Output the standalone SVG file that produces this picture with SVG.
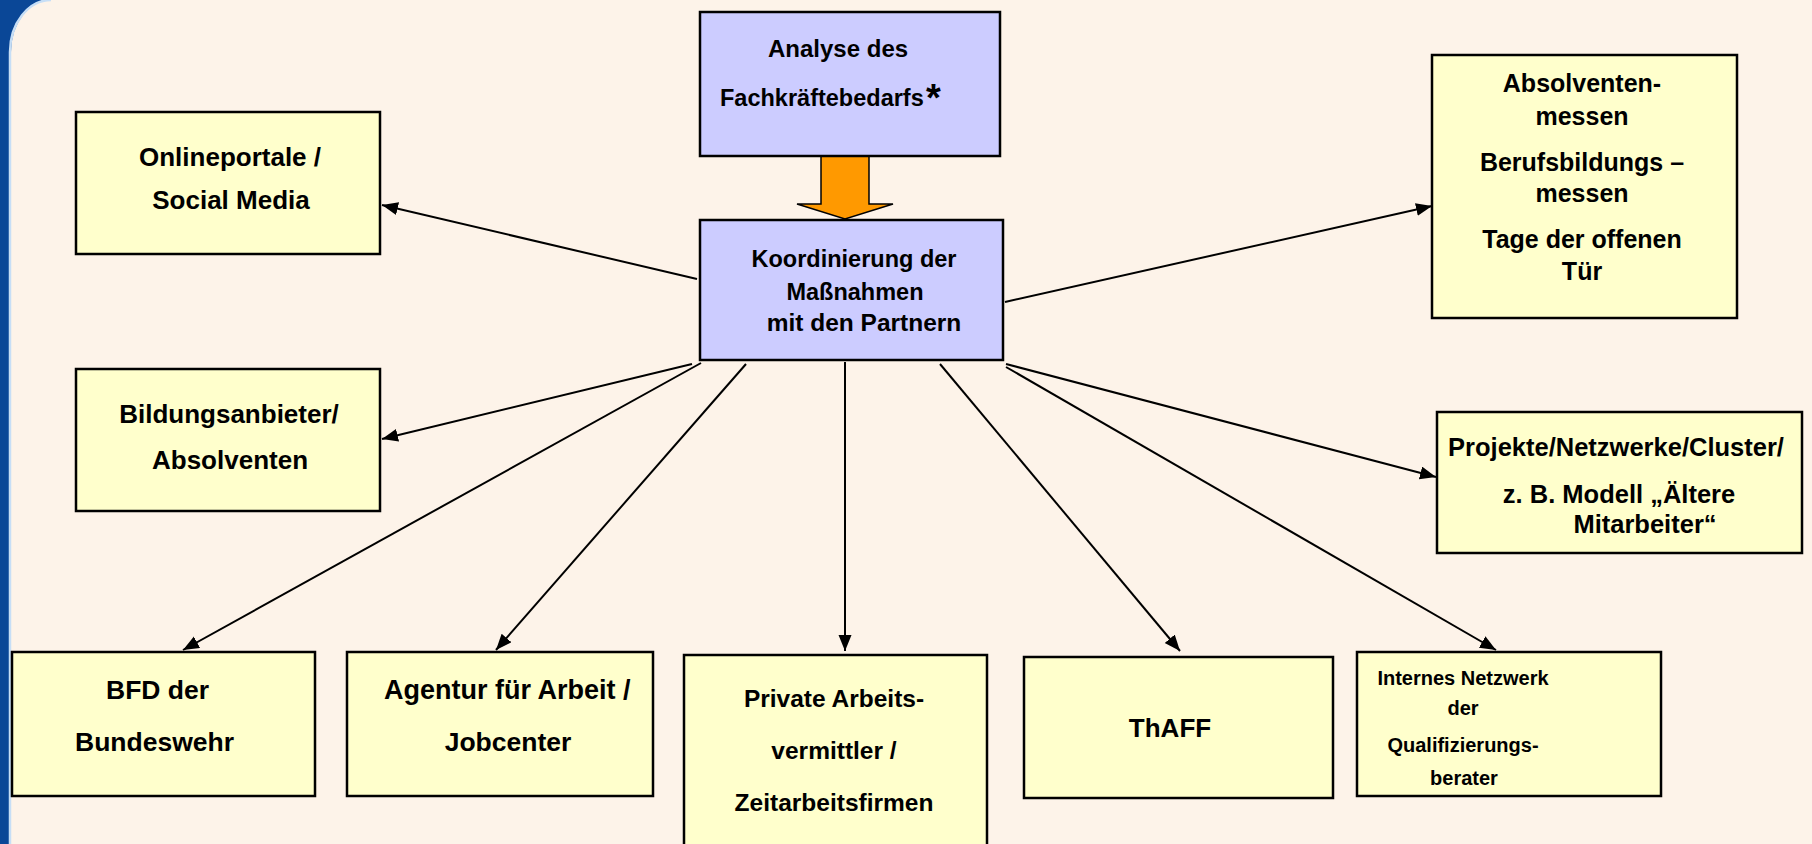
<svg xmlns="http://www.w3.org/2000/svg" width="1812" height="844" viewBox="0 0 1812 844">
<defs>
<style>
.bx{fill:#FFFFCC;stroke:#000;stroke-width:2.5}
.bl{fill:#CCCCFF;stroke:#000;stroke-width:2.5}
.t{font-family:"Liberation Sans",Arial,sans-serif;font-weight:bold;font-size:23px;fill:#000}
.m{text-anchor:middle}
.c{stroke:#000;stroke-width:2;fill:none;marker-end:url(#ah)}
</style>
<marker id="ah" markerUnits="userSpaceOnUse" markerWidth="18" markerHeight="14" refX="16" refY="6.5" orient="auto">
<path d="M0,0 L16,6.5 L0,13 Z" fill="#000"/>
</marker>
</defs>
<rect x="0" y="0" width="1812" height="844" fill="#0A4797"/>
<path d="M11,844 V52 A40,52 0 0 1 51,0 H1812 V844 Z" fill="#FDF3E9"/>
<path d="M10,844 V52 A41,52 0 0 1 51,0" fill="none" stroke="#C6DEF6" stroke-width="2.5"/>

<g id="connectors">
<line class="c" x1="697" y1="279" x2="382" y2="205"/>
<line class="c" x1="1005" y1="302" x2="1432" y2="206"/>
<line class="c" x1="692" y1="364" x2="382" y2="439"/>
<line class="c" x1="701" y1="363" x2="183" y2="650"/>
<line class="c" x1="746" y1="364" x2="496" y2="650"/>
<line class="c" x1="845" y1="362" x2="845" y2="651"/>
<line class="c" x1="940" y1="364" x2="1180" y2="651"/>
<line class="c" x1="1006" y1="367" x2="1496" y2="650"/>
<line class="c" x1="1006" y1="364" x2="1436" y2="477"/>
<polygon points="821,156 869,156 869,204 893,204 845,219 797,204 821,204" fill="#FF9900" stroke="#000" stroke-width="1.5"/>
</g>

<g id="analyse">
<rect class="bl" x="700" y="12" width="300" height="144"/>
<text class="t" x="768" y="57" style="font-size:24px">Analyse des</text>
<text class="t" x="720" y="106" style="font-size:23.5px">Fachkräftebedarfs</text>
<text class="t" x="926" y="111" style="font-size:38px">*</text>
</g>

<g id="koordinierung">
<rect class="bl" x="700" y="220" width="303" height="140"/>
<text class="t m" x="854" y="267" style="font-size:23.5px">Koordinierung der</text>
<text class="t m" x="855" y="300" style="font-size:23.5px">Maßnahmen</text>
<text class="t m" x="864" y="331" style="font-size:24.5px">mit den Partnern</text>
</g>

<g id="onlineportale">
<rect class="bx" x="76" y="112" width="304" height="142"/>
<text class="t m" x="230" y="166" style="font-size:26px">Onlineportale /</text>
<text class="t m" x="231" y="209" style="font-size:26px">Social Media</text>
</g>

<g id="bildungsanbieter">
<rect class="bx" x="76" y="369" width="304" height="142"/>
<text class="t m" x="229" y="423" style="font-size:26px">Bildungsanbieter/</text>
<text class="t m" x="230" y="469" style="font-size:26px">Absolventen</text>
</g>

<g id="absolventenmessen">
<rect class="bx" x="1432" y="55" width="305" height="263"/>
<text class="t m" x="1582" y="92" style="font-size:25px">Absolventen-</text>
<text class="t m" x="1582" y="125" style="font-size:25px">messen</text>
<text class="t m" x="1582" y="171" style="font-size:25px">Berufsbildungs –</text>
<text class="t m" x="1582" y="202" style="font-size:25px">messen</text>
<text class="t m" x="1582" y="248" style="font-size:25px">Tage der offenen</text>
<text class="t m" x="1582" y="280" style="font-size:25px">Tür</text>
</g>

<g id="projekte">
<rect class="bx" x="1437" y="412" width="365" height="141"/>
<text class="t m" x="1616" y="456" style="font-size:25.5px">Projekte/Netzwerke/Cluster/</text>
<text class="t m" x="1619" y="503" style="font-size:25.5px">z. B. Modell „Ältere</text>
<text class="t m" x="1645" y="533" style="font-size:25.5px">Mitarbeiter“</text>
</g>

<g id="bfd">
<rect class="bx" x="12" y="652" width="303" height="144"/>
<text class="t" x="106" y="699" style="font-size:26.5px">BFD der</text>
<text class="t" x="75" y="751" style="font-size:26.5px">Bundeswehr</text>
</g>

<g id="agentur">
<rect class="bx" x="347" y="652" width="306" height="144"/>
<text class="t" x="384" y="699" style="font-size:27px">Agentur für Arbeit /</text>
<text class="t m" x="508" y="751" style="font-size:26.5px">Jobcenter</text>
</g>

<g id="private">
<rect class="bx" x="684" y="655" width="303" height="200"/>
<text class="t m" x="834" y="707" style="font-size:24.5px">Private Arbeits-</text>
<text class="t m" x="834" y="759" style="font-size:24.5px">vermittler /</text>
<text class="t m" x="834" y="811" style="font-size:24.5px">Zeitarbeitsfirmen</text>
</g>

<g id="thaff">
<rect class="bx" x="1024" y="657" width="309" height="141"/>
<text class="t m" x="1170" y="737" style="font-size:26px">ThAFF</text>
</g>

<g id="internes">
<rect class="bx" x="1357" y="652" width="304" height="144"/>
<text class="t m" x="1463" y="685" style="font-size:20px">Internes Netzwerk</text>
<text class="t m" x="1463" y="715" style="font-size:20px">der</text>
<text class="t m" x="1463" y="752" style="font-size:20px">Qualifizierungs-</text>
<text class="t m" x="1464" y="785" style="font-size:20px">berater</text>
</g>
</svg>
